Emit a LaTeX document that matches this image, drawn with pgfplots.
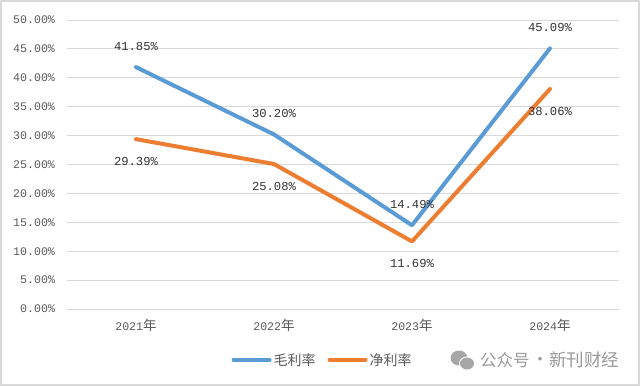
\documentclass[border=0pt]{standalone}
\usepackage{pgfplots}
\usepackage{fontspec}
\pgfplotsset{compat=1.18}
\setmainfont{Liberation Mono}
\newfontfamily\cjk{Noto Sans CJK SC}
\newcommand{\nian}{{\fontsize{13.5}{13}\cjk 年}}
\definecolor{gridc}{HTML}{D9D9D9}
\definecolor{tickc}{HTML}{595959}
\definecolor{bluec}{HTML}{5B9BD5}
\definecolor{orangec}{HTML}{ED7D31}
\begin{document}
\begin{tikzpicture}[x=1pt,y=1pt]
\path[use as bounding box] (0,0) rectangle (640,386);
\fill[white] (0,0) rectangle (640,386);
\draw[gridc,line width=2pt] (1,1) rectangle (639,385);
\begin{axis}[
  at={(67pt,77pt)}, anchor=south west,
  scale only axis, width=552pt, height=289pt,
  xmin=-0.5, xmax=3.5, ymin=0, ymax=50,
  xtick={0,1,2,3},
  xticklabels={2021\nian,2022\nian,2023\nian,2024\nian},
  ytick={0,5,10,15,20,25,30,35,40,45,50},
  yticklabel={\pgfmathprintnumber[fixed,fixed zerofill,precision=2,assume math mode=true]{\tick}\%},
  tick style={draw=none},
  ymajorgrids, grid style={gridc,line width=1pt},
  axis x line*=bottom, axis y line*=left,
  axis line style={-},
  x axis line style={draw=gridc,line width=1pt},
  y axis line style={draw=none},
  ticklabel style={font=\fontsize{11.6}{13}\selectfont,text=tickc},
  xticklabel style={yshift=-7pt},
  yticklabel style={xshift=-8.5pt,anchor=east},
  clip=false,
  legend columns=2,
  legend cell align=left,
  legend style={at={(0.463,-0.176)},anchor=center,draw=none,fill=none,
    font=\fontsize{14}{15}\cjk,text=tickc,
    /tikz/every even column/.append style={column sep=10pt},
    inner sep=0pt},
  legend image code/.code={\draw[#1,line cap=round] (0pt,0pt) -- (36pt,0pt);},
  nodes near coords={\pgfmathprintnumber[fixed,fixed zerofill,precision=2,assume math mode=true]{\pgfplotspointmeta}\%},
  every node near coord/.append style={font=\fontsize{12.2}{13}\selectfont,text=black!80,anchor=center},
]
\addplot[bluec,line width=4pt,line cap=round,line join=round,mark=none,
  every node near coord/.append style={yshift=21pt}]
  coordinates {(0,41.85) (1,30.20) (2,14.49) (3,45.09)};
\addlegendentry{毛利率}
\addplot[orangec,line width=4pt,line cap=round,line join=round,mark=none,
  every node near coord/.append style={yshift=-22.5pt}]
  coordinates {(0,29.39) (1,25.08) (2,11.69) (3,38.06)};
\addlegendentry{净利率}
\end{axis}
% watermark
\fill[black!35] (459,28) ellipse (8.5pt and 7.5pt);
\fill[white] (467,22.5) ellipse (8pt and 7pt);
\fill[black!35] (467,22.5) ellipse (7pt and 6pt);
\node[anchor=west,inner sep=0pt,text=black!40,font=\fontsize{16.5}{18}\cjk] at (480,26) {公众号};
\node[anchor=center,inner sep=0pt,text=black!40,font=\fontsize{16.5}{18}\cjk] at (540,25) {·};
\node[anchor=west,inner sep=0pt,text=black!40,font=\fontsize{17.5}{18}\cjk] at (549,26) {新刊财经};
\end{tikzpicture}
\end{document}
